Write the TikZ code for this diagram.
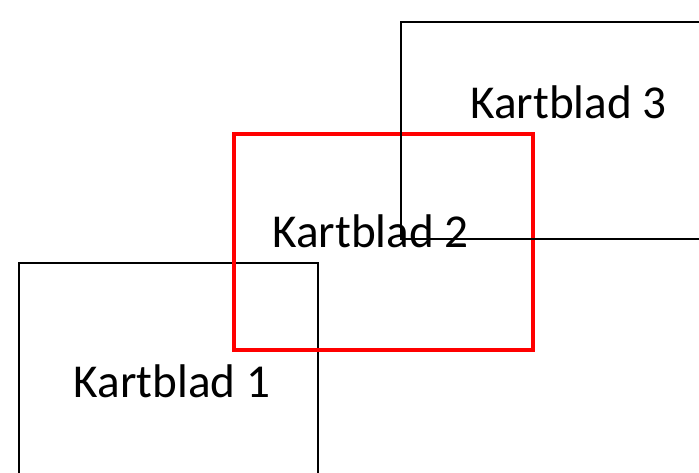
\documentclass[tikz,border=0pt]{standalone}
\usepackage{fontspec}
\setmainfont{Carlito}
\begin{document}
\begin{tikzpicture}[x=1pt,y=-1pt,
  sheet/.style={draw=black,line width=2pt,fill=none,minimum width=299pt,minimum height=217pt,inner sep=0pt,outer sep=0pt,anchor=north west},
  redsheet/.style={draw=red,line width=3.6pt,fill=none,minimum width=299pt,minimum height=216pt,inner sep=0pt,outer sep=0pt,anchor=north west},
  lbl/.style={font=\fontsize{47.2}{56}\selectfont,inner sep=0pt,anchor=base}]
\useasboundingbox (0,0) rectangle (699,472);
\clip (0,0) rectangle (699,472);
\node[sheet] (s1) at (19,263) {};
\node[lbl] (t1) at (172,397) {Kartblad 1};
\node[lbl] (t2) at (370.5,247) {Kartblad 2};
\node[redsheet] (s2) at (234,134) {};
\node[lbl] (t3) at (568.5,118) {Kartblad 3};
\node[sheet] (s3) at (401,22) {};
\end{tikzpicture}
\end{document}
